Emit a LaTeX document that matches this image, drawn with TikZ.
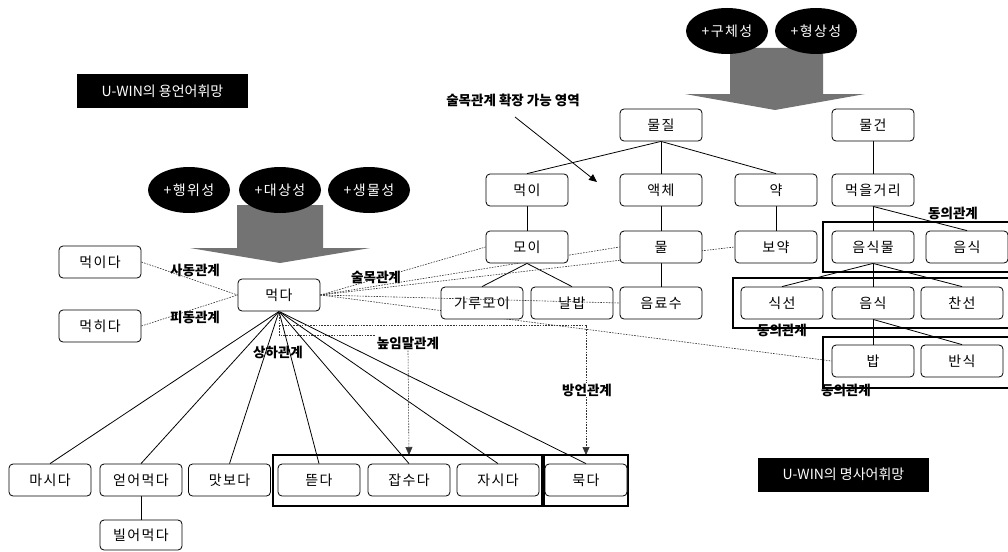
\documentclass[tikz,border=0pt]{standalone}
\usepackage{fontspec}
\setmainfont{Noto Sans CJK KR}
\newfontfamily\spacedkr{Noto Sans CJK KR}[LetterSpace=10]
\usetikzlibrary{shapes.geometric,arrows.meta}
\pgfdeclarelayer{back}
\pgfdeclarelayer{front}
\pgfsetlayers{back,main,front}
\begin{document}
\begin{tikzpicture}[x=1pt,y=-1pt,
  wbox/.style={draw, rounded corners=4pt, fill=white, line width=0.8pt,
    minimum width=82pt, minimum height=32pt, inner sep=0pt,
    font=\spacedkr\fontsize{14}{16}\selectfont},
  grp/.style={draw, line width=2.4pt},
  blob/.style={ellipse, fill=black, text=white, minimum width=82pt,
    minimum height=46pt, inner sep=0pt, font=\spacedkr\fontsize{14}{16}\selectfont},
  tag/.style={fill=black, text=white, minimum width=171pt, minimum height=34pt,
    inner sep=0pt, font=\fontsize{14}{16}\selectfont},
  rel/.style={font=\bfseries\fontsize{13.5}{15}\selectfont, inner sep=1pt},
  link/.style={line width=0.8pt},
  dotline/.style={line width=0.6pt, dash pattern=on 1.6pt off 1.2pt, black!80},
  tip/.style={-{Triangle[length=8pt,width=7pt]}},
  bigarrow/.style={fill=black!55}
]
\useasboundingbox (0,0) rectangle (1008,551);

% broad downward arrows under the feature ellipses
\fill[bigarrow] (237,205) -- (323,205) -- (323,248) -- (370,248) -- (280,263)
  -- (190,248) -- (237,248) -- cycle;
\fill[bigarrow] (730,48) -- (823,48) -- (823,94) -- (865,94) -- (775,110)
  -- (685,94) -- (730,94) -- cycle;

% feature ellipses
\node[blob] (e1) at (189,190) {+행위성};
\node[blob] (e2) at (280,190) {+대상성};
\node[blob] (e3) at (369,190) {+생물성};
\node[blob] (e4) at (727,31) {+구체성};
\node[blob] (e5) at (816,31) {+형상성};

% network titles
\node[tag] (t1) at (162.5,91) {U-WIN의 용언어휘망};
\node[tag] (t2) at (843.5,474.5) {U-WIN의 명사어휘망};

% group frames
\draw[grp] (273,455) rectangle (542,506);
\draw[grp] (544,455) rectangle (628,506);
\draw[grp] (823,222) rectangle (1012,272);
\draw[grp] (733,278) rectangle (1012,328);
\draw[grp] (823,337) rectangle (1012,388);
\coordinate (g1) at (409,455);
\coordinate (g2) at (586,455);

% verb boxes
\node[wbox] (meogida) at (100,262) {먹이다};
\node[wbox] (mekhida) at (100,326) {먹히다};
\node[wbox] (meokda) at (279,295) {먹다};
\node[wbox] (masida) at (50,480) {마시다};
\node[wbox] (eodeo) at (141,480) {얻어먹다};
\node[wbox] (matbo) at (229.5,480) {맛보다};
\node[wbox] (tteut) at (319,480) {뜯다};
\node[wbox] (japsu) at (409,480) {잡수다};
\node[wbox] (jasi) at (498,480) {자시다};
\node[wbox] (muk) at (586,480) {묵다};
\node[wbox, minimum height=30pt] (bireo) at (141,535) {빌어먹다};

% noun boxes
\node[wbox] (muljil) at (661,125) {물질};
\node[wbox] (mulgeon) at (873,125) {물건};
\node[wbox] (meogi) at (527,190) {먹이};
\node[wbox] (aekche) at (661,190) {액체};
\node[wbox] (yak) at (776,190) {약};
\node[wbox] (meogeul) at (873,190) {먹을거리};
\node[wbox] (moi) at (527,247) {모이};
\node[wbox] (mul) at (661,247) {물};
\node[wbox] (boyak) at (776,247) {보약};
\node[wbox] (eumsikmul) at (873,247) {음식물};
\node[wbox] (eumsikA) at (967,247) {음식};
\node[wbox] (garu) at (482,303) {가루모이};
\node[wbox] (nalbap) at (572,303) {날밥};
\node[wbox] (eumryo) at (661,303) {음료수};
\node[wbox] (sikseon) at (782,303) {식선};
\node[wbox] (eumsikB) at (873,303) {음식};
\node[wbox] (chanseon) at (962,303) {찬선};
\node[wbox] (bap) at (873,361) {밥};
\node[wbox] (bansik) at (962,361) {반식};

% relation labels
\node[rel] (sadong) at (195,270) {사동관계};
\node[rel] (pidong) at (195,317) {피동관계};
\node[rel] (sangha) at (278,352) {상하관계};
\node[rel] (sulmok) at (376,277) {술목관계};
\node[rel] (nopim) at (408,343) {높임말관계};
\node[rel, fill=white] (bangeon) at (587,390) {방언관계};
\node[rel] (hwakjang) at (513,100) {술목관계 확장 가능 영역};
\node[rel] (dongA) at (953,213) {동의관계};
\node[rel] (dongB) at (782,330) {동의관계};
\node[rel] (dongC) at (846,390) {동의관계};
\coordinate (hwakjangFrom) at (515,117);
\coordinate (hwakjangTo) at (597,182);
\coordinate (bendH) at (279,335);
\coordinate (bendB) at (279,325);

\begin{pgfonlayer}{back}
  % hyponymy tree under 먹다
  \foreach \t in {masida,eodeo,matbo,tteut,japsu,jasi,muk}
    \draw[link] (meokda.south) -- (\t.north);
  \draw[link] (eodeo.south) -- (bireo.north);
  % noun hierarchy
  \draw[link] (muljil.south) -- (meogi.north);
  \draw[link] (muljil.south) -- (aekche.north);
  \draw[link] (muljil.south) -- (yak.north);
  \draw[link] (mulgeon.south) -- (meogeul.north);
  \draw[link] (meogi.south) -- (moi.north);
  \draw[link] (aekche.south) -- (mul.north);
  \draw[link] (yak.south) -- (boyak.north);
  \draw[link] (meogeul.south) -- (eumsikmul.north);
  \draw[link] (meogeul.south) -- (eumsikA.north);
  \draw[link] (moi.south) -- (garu.north);
  \draw[link] (moi.south) -- (nalbap.north);
  \draw[link] (mul.south) -- (eumryo.north);
  \draw[link] (eumsikmul.south) -- (sikseon.north);
  \draw[link] (eumsikmul.south) -- (eumsikB.north);
  \draw[link] (eumsikmul.south) -- (chanseon.north);
  \draw[link] (eumsikB.south) -- (bap.north);
  \draw[link] (eumsikB.south) -- (bansik.north);
  % causative / passive
  \draw[dotline] (meogida.east) -- (meokda.west);
  \draw[dotline] (mekhida.east) -- (meokda.west);
  % verb-object links
  \draw[dotline] (meokda.east) -- (moi.west);
  \draw[dotline] (meokda.east) -- (mul.west);
  \draw[dotline] (meokda.east) -- (boyak.west);
  \draw[dotline] (meokda.east) -- (bap.west);
  % honorific and dialect links
  \draw[dotline] (meokda.south) -- (bendH) -- (nopim.west |- bendH);
  \draw[dotline, tip] (nopim.south) -- (g1);
  \draw[dotline, tip] (meokda.south) -- (bendB) -- (g2 |- bendB) -- (g2);
\end{pgfonlayer}

\begin{pgfonlayer}{front}
  \draw[dotline] (meokda.east) -- (eumryo.west);
\end{pgfonlayer}

\draw[link, tip] (hwakjangFrom) -- (hwakjangTo);
\end{tikzpicture}
\end{document}
